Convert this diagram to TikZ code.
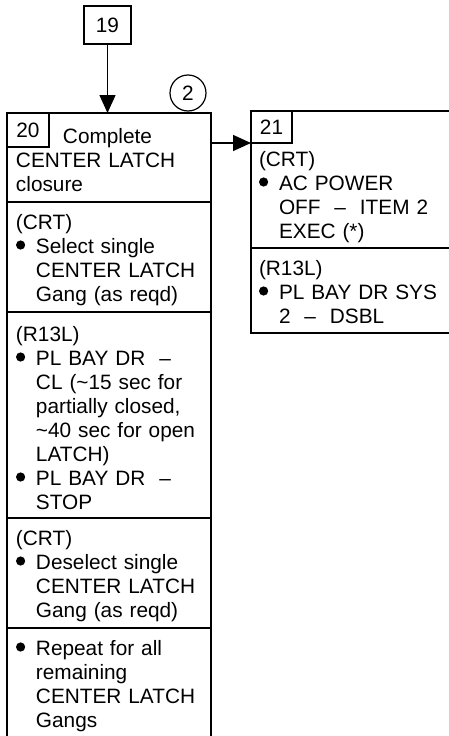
\documentclass[tikz,border=0pt]{standalone}
\usepackage{fontspec}
\setmainfont{Liberation Sans}
\usetikzlibrary{arrows.meta, positioning}
\newcommand{\bul}{\makebox[20pt][l]{\tikz[baseline=-8pt]\fill (4.6pt,0pt) circle (4.6pt);}}
\newcommand{\cont}{\hspace*{20pt}}
\tikzset{
  every picture/.style={line width=1.5pt},
  sect/.style={draw, line width=1.8pt, outer sep=0pt, inner xsep=#1, inner ysep=0pt, align=left, font=\fontsize{20.8}{24}\selectfont},
  sect/.default=9pt,
  numbox/.style={draw, line width=1.4pt, outer sep=0pt, inner sep=0pt, font=\fontsize{20.8}{24}\selectfont},
  refcirc/.style={circle, draw, line width=1.2pt, inner sep=0pt, minimum size=36pt, font=\fontsize{20.8}{24}\selectfont},
  arrow/.style={-{Triangle[length=18pt, width=16pt]}, line width=1.5pt},
}
\begin{document}
\begin{tikzpicture}[x=1pt, y=-1pt, node distance=0pt]
  \useasboundingbox (0,0) rectangle (449,736);
  \clip (0,0) rectangle (449,736);
  % block 20
  \node[sect, anchor=north west, text width=186pt, text height=30pt, text depth=59pt] (s1) at (7,113)
    {\hspace*{47pt}Complete\\CENTER LATCH\\closure};
  \node[sect, below=of s1, text width=186pt, text height=27pt, text depth=83pt] (s2)
    {(CRT)\\\bul Select single\\\cont CENTER LATCH\\\cont Gang (as reqd)};
  \node[sect, below=of s2, text width=186pt, text height=29pt, text depth=177pt] (s3)
    {(R13L)\\\bul PL BAY DR\ \ –\\\cont CL (\textasciitilde15 sec for\\\cont partially closed,\\\cont\textasciitilde40 sec for open\\\cont LATCH)\\\bul PL BAY DR\ \ –\\\cont STOP};
  \node[sect, below=of s3, text width=186pt, text height=27pt, text depth=83pt] (s4)
    {(CRT)\\\bul Deselect single\\\cont CENTER LATCH\\\cont Gang (as reqd)};
  \node[sect, below=of s4, text width=186pt, text height=27pt, text depth=93pt] (s5)
    {\bul Repeat for all\\\cont remaining\\\cont CENTER LATCH\\\cont Gangs};
  \node[numbox, anchor=north west, minimum width=42pt, minimum height=34pt] (n20) at (s1.north west) {20};
  % block 21
  \node[sect=8pt, anchor=north west, text width=204pt, text height=55pt, text depth=82pt] (t1) at (251,111)
    {(CRT)\\\bul AC POWER\\\cont OFF\ \ –\ \ ITEM 2\\\cont EXEC (*)};
  \node[sect=8pt, below=of t1, text width=204pt, text height=27pt, text depth=58pt] (t2)
    {(R13L)\\\bul PL BAY DR SYS\\\cont 2\ \ –\ \ DSBL};
  \node[numbox, anchor=north west, minimum width=41pt, minimum height=32pt] (n21) at (t1.north west) {21};
  % entry and reference
  \node[numbox, minimum width=47pt, minimum height=38pt] (n19) at (107.5,25) {19};
  \node[refcirc] (c2) at (188,93) {2};
  \draw[arrow] (n19) -- (n19 |- s1.north);
  \draw[arrow] (s1.east |- n21.south west) -- (n21.south west);
\end{tikzpicture}
\end{document}
